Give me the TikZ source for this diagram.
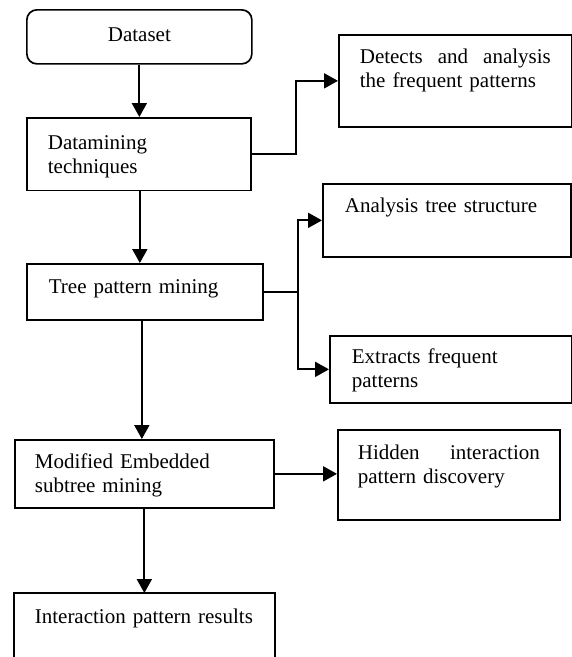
\documentclass[tikz,border=0pt]{standalone}
\usepackage{fontspec}
\setmainfont{Liberation Serif}
\usetikzlibrary{arrows.meta}
\tikzset{
  box/.style={draw, line width=1.7pt, anchor=north west, inner ysep=0pt, align=left,
              font=\fontsize{21}{24}\selectfont},
  conn/.style={line width=2pt, -{Triangle[length=14pt,width=15pt]}},
  wire/.style={line width=2pt},
}
\begin{document}
\begin{tikzpicture}[x=1pt, y=-1pt]
\useasboundingbox (0,0) rectangle (572,657);

\node[box, rounded corners=10pt, align=center, inner xsep=0pt, text width=225pt,
      text height=32pt, text depth=22pt] (dataset) at (26,9) {Dataset};
\node[box, inner xsep=21pt, text width=182pt, text height=32pt, text depth=40.5pt]
      (dm) at (26,117) {Datamining\\techniques};
\node[box, inner xsep=22pt, text width=192pt, text height=30pt, text depth=26pt]
      (tree) at (26,263) {Tree pattern mining};
\node[box, inner xsep=20pt, text width=219pt, text height=29pt, text depth=39pt]
      (mod) at (14,439) {Modified Embedded\\subtree mining};
\node[box, draw=none, inner xsep=20pt, text width=219pt, text height=30pt, text depth=34pt]
      (res) at (14,593) {Interaction pattern results};
\draw[line width=1.7pt] (res.south west) -- (res.north west) -- (res.north east) -- (res.south east);

\node[box, inner xsep=21pt, text width=191pt, text height=29pt, text depth=63pt]
      (det) at (338,34) {Detects\hfill and\hfill analysis\\the frequent patterns};
\node[box, inner xsep=22pt, text width=204pt, text height=29pt, text depth=44pt]
      (ana) at (322,183) {Analysis tree structure};
\node[box, inner xsep=22pt, text width=198pt, text height=28pt, text depth=39pt]
      (ext) at (329,335) {Extracts frequent\\patterns};
\node[box, inner xsep=20pt, text width=182pt, text height=30pt, text depth=60pt]
      (hid) at (337,429) {Hidden\hfill interaction\\pattern discovery};

\draw[conn] (dataset.south) -- (dataset.south |- dm.north);
\draw[conn] ([xshift=1pt]dm.south) -- ([xshift=1pt]dm.south |- tree.north);
\draw[conn] ([xshift=-3pt]tree.south) -- ([xshift=-3pt]tree.south |- mod.north);
\draw[conn] (mod.south) -- (mod.south |- res.north);

\draw[conn] (dm.east) -- ++(44,0) |- (det.west);
\coordinate (tj) at ([xshift=34pt]tree.east);
\draw[wire] (tree.east) -- (tj);
\draw[conn] (tj) |- (ana.west);
\draw[conn] (tj) |- (ext.west);
\draw[conn] (mod.east) -- (mod.east -| hid.west);
\end{tikzpicture}
\end{document}
